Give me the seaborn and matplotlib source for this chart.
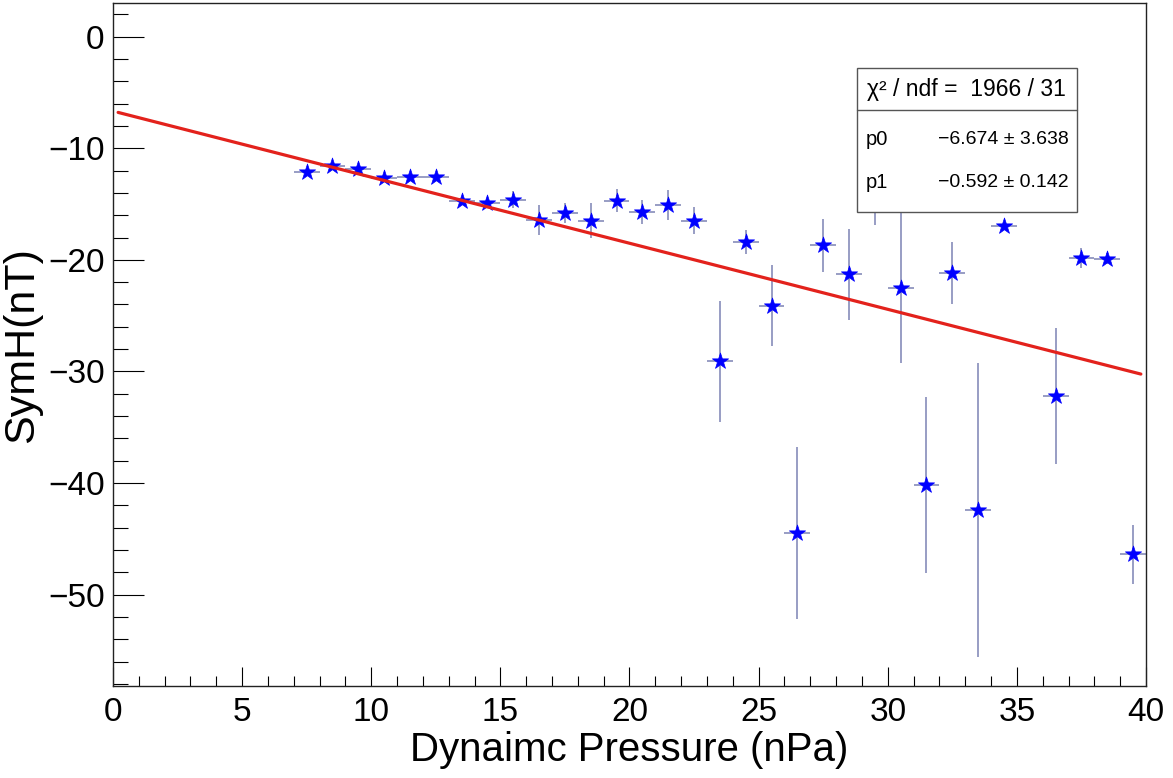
import numpy as np
import pandas as pd
import matplotlib
matplotlib.use('Agg')
import matplotlib.pyplot as plt
import seaborn as sns
from matplotlib.patches import Rectangle
from matplotlib.ticker import MultipleLocator

# binned data (bin centres, mean SymH, errors)
pressure = [7.5, 8.5, 9.5, 10.5, 11.5, 12.5, 13.5, 14.5, 15.5, 16.5, 17.5,
            18.5, 19.5, 20.5, 21.5, 22.5, 23.5, 24.5, 25.5, 26.5, 27.5, 28.5,
            29.5, 30.5, 31.5, 32.5, 33.5, 34.5, 35.5, 36.5, 37.5, 38.5, 39.5]
symh = [-12.1, -11.6, -11.9, -12.7, -12.6, -12.6, -14.7, -14.9, -14.6, -16.4, -15.8,
        -16.5, -14.7, -15.7, -15.1, -16.5, -29.1, -18.4, -24.1, -44.5, -18.7, -21.3,
        -14.5, -22.5, -40.2, -21.2, -42.4, -17.0, -12.0, -32.2, -19.8, -19.9, -46.4]
symh_err = [0.3, 0.3, 0.3, 0.3, 0.3, 0.3, 0.4, 0.4, 0.8, 1.35, 0.9,
            1.55, 1.05, 1.1, 1.35, 1.2, 5.4, 1.05, 3.6, 7.7, 2.4, 4.1,
            2.4, 6.7, 7.9, 2.8, 13.2, 0.3, 1.0, 6.1, 0.9, 0.5, 2.6]
bin_halfwidth = 0.5

# fit result shown in the stats box
p0, p0_err = -6.674, 3.638
p1, p1_err = -0.592, 0.142
chi2, ndf = 1966, 31

df = pd.DataFrame({'pressure': pressure, 'symh': symh, 'err': symh_err})
fit_x = np.linspace(0.2, 39.8, 100)
fit_df = pd.DataFrame({'pressure': fit_x, 'symh': p0 + p1 * fit_x})

sns.set_style('ticks')
plt.rcParams['font.family'] = ['Liberation Sans', 'DejaVu Sans']
plt.rcParams['text.color'] = 'black'
plt.rcParams['axes.labelcolor'] = 'black'
plt.rcParams['xtick.color'] = 'black'
plt.rcParams['ytick.color'] = 'black'

fig = plt.figure(figsize=(11.73, 7.78), dpi=100)
ax = fig.add_axes([0.0963, 0.118, 0.8807, 0.878])

ax.errorbar(df['pressure'], df['symh'], yerr=df['err'], xerr=bin_halfwidth,
            fmt='none', ecolor='#7c82b4', elinewidth=1.1, capsize=0, zorder=2)
sns.scatterplot(data=df, x='pressure', y='symh', marker='*', s=150,
                color='#0000ff', edgecolor='#0000ff', linewidth=0.5, ax=ax, zorder=3)
sns.lineplot(data=fit_df, x='pressure', y='symh', color='#e3221c', linewidth=2.3,
             ax=ax, zorder=4)

ax.set_xlim(0, 40)
ax.set_ylim(-58.2, 3.0)
ax.xaxis.set_major_locator(MultipleLocator(5))
ax.xaxis.set_minor_locator(MultipleLocator(1))
ax.yaxis.set_major_locator(MultipleLocator(10))
ax.yaxis.set_minor_locator(MultipleLocator(2))
ax.tick_params(axis='x', which='major', direction='in', length=14, width=0.8,
               labelsize=24, pad=8)
ax.tick_params(axis='x', which='minor', direction='in', length=7, width=0.8)
ax.tick_params(axis='y', which='major', direction='in', length=22, width=0.8,
               labelsize=24, pad=6)
ax.tick_params(axis='y', which='minor', direction='in', length=11, width=0.8)
for sp in ax.spines.values():
    sp.set_linewidth(1.0)
    sp.set_color('#222222')

ax.set_xlabel('Dynaimc Pressure (nPa)', fontsize=29, labelpad=2)
ax.set_ylabel('SymH(nT)', fontsize=31, labelpad=4)

# stats box
bx0, bx1, by0, by1, bdiv = 0.720, 0.933, 0.694, 0.905, 0.843
ax.add_patch(Rectangle((bx0, by0), bx1 - bx0, by1 - by0, transform=ax.transAxes,
                       facecolor='white', edgecolor='#555555', linewidth=1.0, zorder=6))
ax.plot([bx0, bx1], [bdiv, bdiv], transform=ax.transAxes, color='#555555',
        linewidth=1.0, zorder=7)
ax.text((bx0 + bx1) / 2, (bdiv + by1) / 2, '\u03c7\u00b2 / ndf =  %d / %d' % (chi2, ndf),
        transform=ax.transAxes, ha='center', va='center', fontsize=16.5, zorder=8)
ax.text(bx0 + 0.009, 0.800, 'p0', transform=ax.transAxes, ha='left', va='center',
        fontsize=14.5, zorder=8)
ax.text(bx1 - 0.008, 0.800, '\u2212%.3f \u00b1 %.3f' % (abs(p0), p0_err),
        transform=ax.transAxes, ha='right', va='center', fontsize=14, zorder=8)
ax.text(bx0 + 0.009, 0.737, 'p1', transform=ax.transAxes, ha='left', va='center',
        fontsize=14.5, zorder=8)
ax.text(bx1 - 0.008, 0.737, '\u2212%.3f \u00b1 %.3f' % (abs(p1), p1_err),
        transform=ax.transAxes, ha='right', va='center', fontsize=14, zorder=8)

fig.savefig('out.png', dpi=100, facecolor='white')
